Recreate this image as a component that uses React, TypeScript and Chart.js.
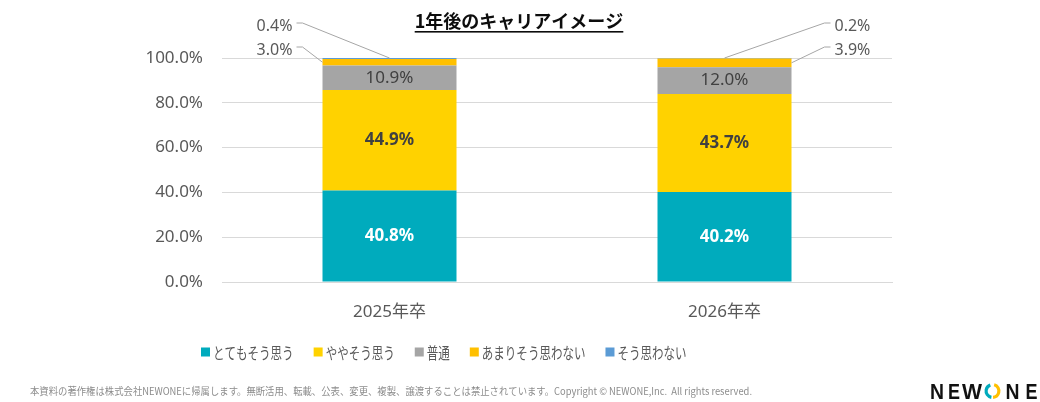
import React, { useEffect, useRef } from "react";
import { Chart, registerables } from "chart.js";

Chart.register(...registerables);

// ---- data ----
const categories = ["2025年卒", "2026年卒"];
const seriesNames = ["とてもそう思う", "ややそう思う", "普通", "あまりそう思わない", "そう思わない"];
const veryMuch = [40.8, 40.2];
const somewhat = [44.9, 43.7];
const neutral = [10.9, 12.0];
const notMuch = [3.0, 3.9];
const notAtAll = [0.4, 0.2];
const yTicks = [0, 20, 40, 60, 80, 100];

const titleText = "1年後のキャリアイメージ";
const footnoteText =
  "本資料の著作権は株式会社NEWONEに帰属します。無断活用、転載、公表、変更、複製、譲渡することは禁止されています。Copyright © NEWONE,Inc.  All rights reserved.";
const brandLetters = ["N", "E", "W", "", "N", "E"];

// ---- styles ----
const seriesColors = ["#00ABBD", "#FFD200", "#A5A5A5", "#FFC000", "#5B9BD5"];
const insideLabelStyles = [
  { color: "#ffffff", weight: "bold" },
  { color: "#404040", weight: "bold" },
  { color: "#404040", weight: "normal" },
];
const LATIN = "'Noto Sans', 'Noto Sans CJK JP', sans-serif";
const CJK = "'Noto Sans CJK JP', 'Noto Sans', sans-serif";
const fmt = (v: number) => v.toFixed(1) + "%";

const overlayPlugin = {
  id: "overlay",
  afterDatasetsDraw(chart: any) {
    const ctx = chart.ctx as CanvasRenderingContext2D;
    const area = chart.chartArea;
    ctx.save();

    // values inside the three large segments
    for (let d = 0; d < 3; d++) {
      const meta = chart.getDatasetMeta(d);
      const st = insideLabelStyles[d];
      meta.data.forEach((el: any, i: number) => {
        const p = el.getProps(["x", "y", "base"], true);
        const v = chart.data.datasets[d].data[i] as number;
        ctx.font = `${st.weight} 17px ${LATIN}`;
        ctx.fillStyle = st.color;
        ctx.textAlign = "center";
        ctx.textBaseline = "middle";
        ctx.fillText(fmt(v), p.x, (p.y + p.base) / 2);
      });
    }

    // small segments: labels outside with leader lines
    const outside = [
      { d: 4, dy: -32 },
      { d: 3, dy: -8 },
    ];
    outside.forEach(({ d, dy }) => {
      const meta = chart.getDatasetMeta(d);
      meta.data.forEach((el: any, i: number) => {
        const p = el.getProps(["x", "y", "base", "width"], true);
        const v = chart.data.datasets[d].data[i] as number;
        const leftSide = i === 0;
        const ly = area.top + dy;
        const half = p.width / 2;
        let tx: number;
        let sx: number;
        let kx: number;
        if (leftSide) {
          tx = p.x - half - 30;
          sx = tx + 4;
          kx = sx + 6;
        } else {
          tx = p.x + half + 43;
          sx = tx - 4;
          kx = sx - 6;
        }
        const target =
          d === 4
            ? { x: p.x, y: p.y }
            : { x: leftSide ? p.x - half : p.x + half, y: (p.y + p.base) / 2 };
        ctx.strokeStyle = "#A6A6A6";
        ctx.lineWidth = 1;
        ctx.beginPath();
        ctx.moveTo(sx, ly - 3);
        ctx.lineTo(kx, ly - 3);
        ctx.lineTo(target.x, target.y);
        ctx.stroke();

        ctx.font = `16px ${LATIN}`;
        ctx.fillStyle = "#595959";
        ctx.textAlign = leftSide ? "right" : "left";
        ctx.textBaseline = "middle";
        ctx.fillText(fmt(v), tx, ly);
      });
    });
    ctx.restore();
  },
  afterDraw(chart: any) {
    const ctx = chart.ctx as CanvasRenderingContext2D;
    ctx.save();

    // title with underline
    ctx.font = `bold 18px ${CJK}`;
    ctx.fillStyle = "#0D0D0D";
    ctx.textAlign = "center";
    ctx.textBaseline = "middle";
    const tcx = 519;
    ctx.fillText(titleText, tcx, 21);
    const tw = ctx.measureText(titleText).width;
    ctx.fillRect(tcx - tw / 2, 31, tw, 1.6);

    // legend
    ctx.font = `16px ${CJK}`;
    ctx.textBaseline = "middle";
    ctx.textAlign = "left";
    let x = 201;
    const ly = 352;
    chart.data.datasets.forEach((ds: any) => {
      ctx.fillStyle = ds.backgroundColor;
      ctx.fillRect(x, ly - 4.5, 9, 9);
      const w = ctx.measureText(ds.label).width * 0.72;
      ctx.fillStyle = "#595959";
      ctx.fillText(ds.label, x + 12, ly + 1, w);
      x += 12 + w + 20;
    });

    // footnote
    ctx.font = `10px ${CJK}`;
    ctx.fillStyle = "#8C8C8C";
    ctx.textAlign = "left";
    ctx.fillText(footnoteText, 30, 391, 722);

    // brand mark
    ctx.font = `bold 22px 'Liberation Sans', 'DejaVu Sans', sans-serif`;
    ctx.fillStyle = "#111111";
    ctx.textBaseline = "alphabetic";
    ctx.textAlign = "center";
    const letterX = [937, 954, 972, 992.5, 1012.5, 1031.5];
    const letterW = [14, 12, 20, 0, 14, 12];
    brandLetters.forEach((ch, k) => {
      if (ch) ctx.fillText(ch, letterX[k], 399, letterW[k]);
    });
    const cx = letterX[3];
    const cy = 391;
    ctx.lineWidth = 3.2;
    ctx.strokeStyle = seriesColors[0];
    ctx.beginPath();
    ctx.arc(cx, cy, 6.4, (100 * Math.PI) / 180, (250 * Math.PI) / 180);
    ctx.stroke();
    ctx.strokeStyle = "#FFC000";
    ctx.beginPath();
    ctx.arc(cx, cy, 6.4, (-75 * Math.PI) / 180, (85 * Math.PI) / 180);
    ctx.stroke();

    ctx.restore();
  },
};

export default function App() {
  const ref = useRef<HTMLCanvasElement | null>(null);

  useEffect(() => {
    if (!ref.current) return;
    const seriesValues = [veryMuch, somewhat, neutral, notMuch, notAtAll];
    const chart = new Chart(ref.current, {
      type: "bar",
      data: {
        labels: categories,
        datasets: seriesNames.map((name, k) => ({
          label: name,
          data: seriesValues[k],
          backgroundColor: seriesColors[k],
          borderWidth: 0,
          barPercentage: 0.4,
          categoryPercentage: 1.0,
        })),
      },
      options: {
        responsive: false,
        animation: false,
        events: [],
        layout: { padding: { left: 0, right: 148, top: 58, bottom: 0 } },
        plugins: {
          legend: { display: false },
          title: { display: false },
          tooltip: { enabled: false },
        },
        scales: {
          x: {
            stacked: true,
            grid: { display: false },
            border: { display: true, color: "#D9D9D9", width: 1 },
            ticks: {
              color: "#595959",
              font: { family: LATIN, size: 17 },
              padding: 12,
            },
            afterFit: (s: any) => {
              s.height = 120;
            },
          },
          y: {
            stacked: true,
            min: 0,
            max: 100,
            border: { display: false },
            grid: { color: "#D9D9D9", lineWidth: 1, drawTicks: false },
            ticks: {
              color: "#595959",
              font: { family: LATIN, size: 17 },
              padding: 19,
              callback: (v: any) => Number(v).toFixed(1) + "%",
            },
            afterBuildTicks: (s: any) => {
              s.ticks = yTicks.map((v) => ({ value: v }));
            },
            afterFit: (s: any) => {
              s.width = 222;
            },
          },
        },
      },
      plugins: [overlayPlugin],
    });
    return () => chart.destroy();
  }, []);

  return (
    <div style={{ position: "absolute", left: 0, top: 0, width: 1040, height: 402, background: "#fff" }}>
      <canvas ref={ref} width={1040} height={402} style={{ display: "block" }} />
    </div>
  );
}
